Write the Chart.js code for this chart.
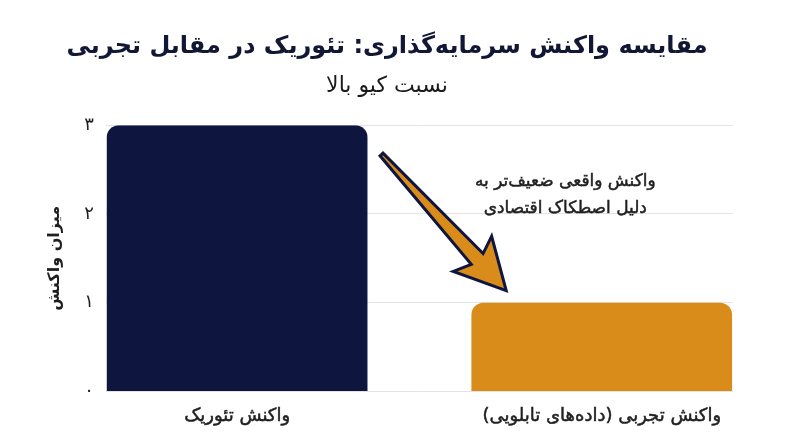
<!DOCTYPE html>
<html lang="fa">
<head>
<meta charset="utf-8">
<script src="https://cdn.jsdelivr.net/npm/chart.js@4.4.0/dist/chart.umd.min.js"></script>
<style>
  html, body { margin: 0; padding: 0; background: #fff; }
  #wrap { width: 800px; height: 447px; }
</style>
</head>
<body>
<div id="wrap"><canvas id="investChart"></canvas></div>
<script>
// data
const categories = ['واکنش تئوریک', 'واکنش تجربی (داده‌های تابلویی)'];
const responseValues = [3, 1];
const barColors = ['#0e1640', '#d98c1a'];
const yTickLabels = ['۰', '۱', '۲', '۳'];
const noteLines = ['واکنش واقعی ضعیف‌تر به', 'دلیل اصطکاک اقتصادی'];
// arrow from near top of first bar down toward second bar (data units)
const arrowFrom = { x: 0.396, y: 2.67 };
const arrowTo = { x: 0.738, y: 1.135 };

const FONT = "'DejaVu Sans', sans-serif";

const arrowNote = {
    id: 'arrowNote',
    afterDatasetsDraw(chart) {
        const { ctx, scales: { x, y } } = chart;
        const x1 = x.getPixelForValue(arrowFrom.x), y1 = y.getPixelForValue(arrowFrom.y);
        const x2 = x.getPixelForValue(arrowTo.x), y2 = y.getPixelForValue(arrowTo.y);
        const ang = Math.atan2(y2 - y1, x2 - x1);
        const len = Math.hypot(x2 - x1, y2 - y1);
        const notch = 43, barb = 50, headHalf = 26, shaftHalf = 8, tailHalf = 2;
        ctx.save();
        ctx.translate(x1, y1);
        ctx.rotate(ang);
        ctx.beginPath();
        ctx.moveTo(0, -tailHalf);
        ctx.lineTo(len - notch, -shaftHalf);
        ctx.lineTo(len - barb, -headHalf);
        ctx.lineTo(len, 0);
        ctx.lineTo(len - barb, headHalf);
        ctx.lineTo(len - notch, shaftHalf);
        ctx.lineTo(0, tailHalf);
        ctx.closePath();
        ctx.fillStyle = '#d98c1a';
        ctx.fill();
        ctx.lineWidth = 3;
        ctx.lineJoin = 'miter';
        ctx.strokeStyle = '#0e1640';
        ctx.stroke();
        ctx.restore();

        // note text, a thin stroke gives it a medium weight
        ctx.save();
        ctx.font = '17px ' + FONT;
        ctx.fillStyle = '#1f1f1f';
        ctx.strokeStyle = '#1f1f1f';
        ctx.lineWidth = 0.5;
        ctx.textAlign = 'center';
        ctx.textBaseline = 'middle';
        ctx.direction = 'rtl';
        const cx = x.getPixelForValue(0.9), cy = y.getPixelForValue(2.37);
        noteLines.forEach((t, i) => {
            ctx.fillText(t, cx, cy + i * 27);
            ctx.strokeText(t, cx, cy + i * 27);
        });
        ctx.restore();
    }
};

const ctx = document.getElementById('investChart').getContext('2d');
const investChart = new Chart(ctx, {
    type: 'bar',
    data: {
        datasets: [{
            label: 'میزان واکنش',
            data: responseValues.map((v, i) => ({ x: i, y: v })),
            backgroundColor: barColors,
            borderRadius: 12,
            borderSkipped: 'start',
            categoryPercentage: 1,
            barPercentage: 0.715
        }]
    },
    options: {
        responsive: true,
        maintainAspectRatio: false,
        animation: false,
        layout: { padding: { left: 41, right: 67, top: 10, bottom: 14 } },
        plugins: {
            legend: { display: false },
            tooltip: { enabled: false },
            title: {
                display: true,
                text: 'مقایسه واکنش سرمایه‌گذاری: تئوریک در مقابل تجربی',
                color: '#121735',
                font: { family: FONT, size: 24, weight: 'bold' },
                padding: { top: 22, bottom: 12 }
            },
            subtitle: {
                display: true,
                text: 'نسبت کیو بالا',
                color: '#1a1a1a',
                font: { family: FONT, size: 22, weight: '500' },
                padding: { bottom: 26 }
            }
        },
        scales: {
            x: {
                type: 'linear',
                min: -0.36,
                max: 1.36,
                offset: false,
                afterBuildTicks: axis => { axis.ticks = [{ value: 0 }, { value: 1 }]; },
                ticks: {
                    callback: v => categories[v] ?? '',
                    color: '#1f1f1f',
                    textStrokeColor: '#1f1f1f',
                    textStrokeWidth: 0.5,
                    font: { family: FONT, size: 18, weight: '500' },
                    padding: 6
                },
                grid: { display: false },
                border: { display: false }
            },
            y: {
                min: 0,
                max: 3,
                ticks: {
                    stepSize: 1,
                    callback: v => yTickLabels[v] ?? '',
                    color: '#1f1f1f',
                    font: { family: FONT, size: 18 },
                    padding: 12
                },
                title: {
                    display: true,
                    text: 'میزان واکنش',
                    color: '#1f1f1f',
                    font: { family: FONT, size: 16, weight: 'bold' },
                    padding: { bottom: 8 }
                },
                grid: { color: '#e3e3e3', drawTicks: false },
                border: { display: false }
            }
        }
    },
    plugins: [arrowNote]
});
</script>
</body>
</html>
